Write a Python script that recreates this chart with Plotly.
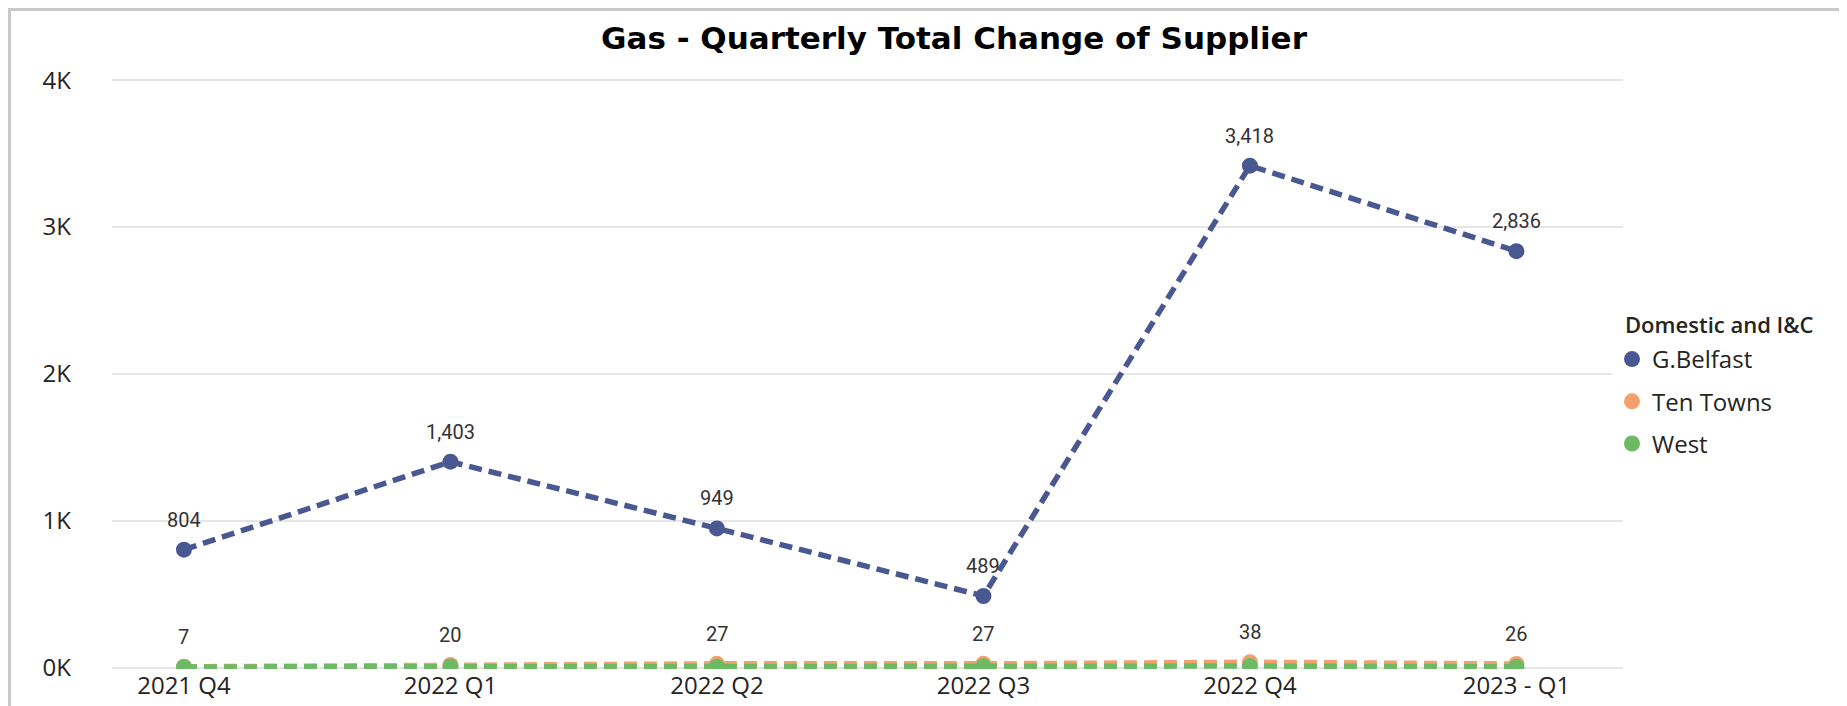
import plotly.graph_objects as go

# ── data ──────────────────────────────────────────────────────────────────────
quarters = ["2021 Q4", "2022 Q1", "2022 Q2", "2022 Q3", "2022 Q4", "2023 - Q1"]
g_belfast = [804, 1403, 949, 489, 3418, 2836]
ten_towns = [7, 20, 27, 27, 38, 26]
west = [6, 9, 8, 10, 12, 7]

y_ticks = [0, 1000, 2000, 3000, 4000]
y_tick_labels = ["0K", "1K", "2K", "3K", "4K"]

series = [
    ("G.Belfast", g_belfast, "#4A5891"),
    ("Ten Towns", ten_towns, "#F2A06E"),
    ("West", west, "#6DBA65"),
]

# figure sits at (8, 8) inside the page (default body margin)
W, H = 1839, 698
L, R, T, B = 104, 224, 71, 37
PW, PH = W - L - R, H - T - B


def px_x(x):
    return (x - L) / PW


def px_y(y):
    return 1 - (y - T) / PH


fig = go.Figure()

for name, vals, col in series:
    fig.add_trace(go.Scatter(
        x=quarters, y=vals, name=name, mode="lines+markers",
        line=dict(color=col, width=5.5, dash="13px,7px"),
        marker=dict(color=col, size=16),
        showlegend=False,
        hovertemplate=name + ": %{y:,}<extra></extra>",
    ))
    # legend-only circle entries (Power BI style legend)
    fig.add_trace(go.Scatter(
        x=[None], y=[None], name=name, mode="markers", legendgroup=name,
        marker=dict(color=col, size=20), showlegend=True,
    ))

# data labels
label_font = dict(family="Roboto", size=20, color="#333333")
for q, v in zip(quarters, g_belfast):
    fig.add_annotation(x=q, y=v, text=f"{v:,}", showarrow=False,
                       yshift=30, font=label_font)
for q, v in zip(quarters, ten_towns):
    fig.add_annotation(x=q, y=v, text=f"{v:,}", showarrow=False,
                       yshift=30, font=label_font)

# legend title (Power BI puts it flush with the legend dots)
fig.add_annotation(
    text="Domestic and I&C", xref="paper", yref="paper",
    x=px_x(1615), y=px_y(316), xanchor="left", yanchor="middle",
    showarrow=False,
    font=dict(family="Open Sans", size=22, color="#252423", weight=600),
)

# outer frame
fig.add_shape(type="rect", xref="paper", yref="paper",
              x0=px_x(1.5), x1=px_x(W - 2),
              y0=-0.2, y1=px_y(1.5),
              line=dict(color="#C8C8C8", width=3), fillcolor="rgba(0,0,0,0)",
              layer="below")

tick_font = dict(family="Open Sans", size=24, color="#252423")

fig.update_layout(
    width=W, height=H,
    margin=dict(l=L, r=R, t=T, b=B, autoexpand=False),
    paper_bgcolor="white", plot_bgcolor="white",
    title=dict(text="<b>Gas - Quarterly Total Change of Supplier</b>",
               x=946 / W, xanchor="center", y=1 - 30 / H, yanchor="middle",
               font=dict(family="DejaVu Sans", size=31, color="#000000")),
    xaxis=dict(
        type="category", range=[-0.27, 5.4], automargin=False,
        showgrid=False, showline=False, zeroline=False, ticks="",
        tickfont=tick_font,
    ),
    yaxis=dict(
        range=[-8, 4008], tickvals=y_ticks, ticktext=y_tick_labels,
        automargin=False,
        showgrid=True, gridcolor="#E6E6E6", gridwidth=1.5,
        zeroline=False, showline=False, ticks="",
        ticklabelstandoff=40,
        tickfont=tick_font,
    ),
    legend=dict(
        x=px_x(1604), xanchor="left", y=px_y(329), yanchor="top",
        font=dict(family="Open Sans", size=24, color="#252423"),
        itemwidth=30, tracegroupgap=8,
    ),
)

fig.write_html("out.html")
